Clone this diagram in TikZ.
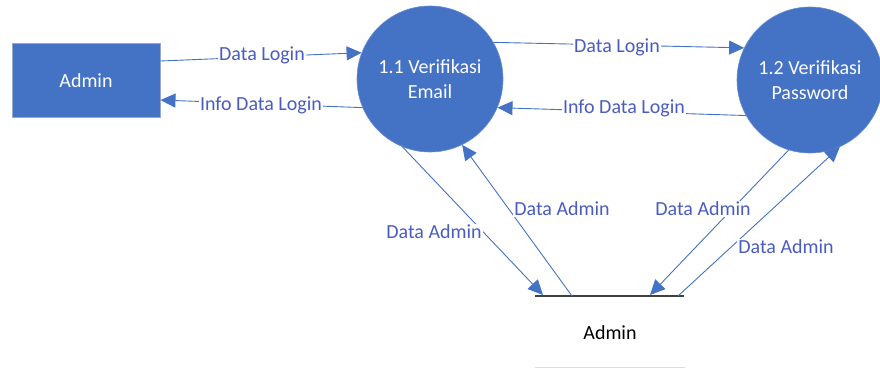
\documentclass[tikz,border=0pt]{standalone}
\usepackage{fontspec}
\setmainfont{Carlito}
\usetikzlibrary{arrows.meta,calc}
\definecolor{fillblue}{HTML}{4472C4}
\definecolor{lblue}{HTML}{4A5CC0}
\definecolor{rectedge}{HTML}{98A8CC}
\definecolor{storegray}{HTML}{404040}
\definecolor{faintgray}{HTML}{DDDDDD}
\tikzset{
  entity/.style={rectangle, fill=fillblue, draw=rectedge, line width=1pt,
    minimum width=148pt, minimum height=73pt, text=white, inner sep=0pt},
  proc/.style={circle, fill=fillblue, draw=fillblue!80!white, line width=0.6pt,
    minimum size=146pt, text=white, align=center, inner sep=0pt},
  flow/.style={draw=fillblue, line width=0.9pt, -{Triangle[length=15pt,width=14pt]}},
  flowlabel/.style={text=lblue, fill=white, inner sep=1pt},
  storeline/.style={draw=storegray, line width=2pt},
}
\begin{document}
\begin{tikzpicture}[x=1pt,y=-1pt,font=\fontsize{20}{25}\selectfont]
\useasboundingbox (0,0) rectangle (880,369);
% nodes
\node[entity] (admin) at (86,80.5) {Admin};
\node[proc] (p1) at (430,79) {1.1 Verifikasi\\Email};
\node[proc] (p2) at (810,80) {1.2 Verifikasi\\Password};
% data store
\coordinate (s1) at (535,296);
\coordinate (s2) at (684,296);
\coordinate (sa) at (543,295);
\coordinate (sb) at (572,296);
\coordinate (sc) at (650,295);
\coordinate (sd) at (678,296);
\draw[storeline] (s1) -- (s2);
\node[text=black] (store) at (610,333) {Admin};
\coordinate (f1) at (535,367.5);
\coordinate (f2) at (685,367.5);
\draw[faintgray, line width=1pt] (f1) -- (f2);
% flows
\draw[flow] ([yshift=19.5pt]admin.east) -- (p1.159);
\draw[flow] (p1.203) -- ([yshift=-19.5pt]admin.east);
\draw[flow] (p1.30) -- (p2.154);
\draw[flow] (p2.209) -- (p1.337);
\draw[flow] (p1.248) -- (sa);
\draw[flow] (sb) -- (p1.296);
\draw[flow] (p2.253) -- (sc);
\draw[flow] (sd) -- (p2.294);
% labels
\node[flowlabel] (l1) at (262,55) {Data Login};
\node[flowlabel] (l2) at (261,105) {Info Data Login};
\node[flowlabel] (l3) at (617,47) {Data Login};
\node[flowlabel] (l4) at (624,108) {Info Data Login};
\node[flowlabel] (l5) at (434,232) {Data Admin};
\node[flowlabel] (l6) at (562,209) {Data Admin};
\node[flowlabel] (l7) at (703,209) {Data Admin};
\node[flowlabel] (l8) at (786,247) {Data Admin};
\end{tikzpicture}
\end{document}
